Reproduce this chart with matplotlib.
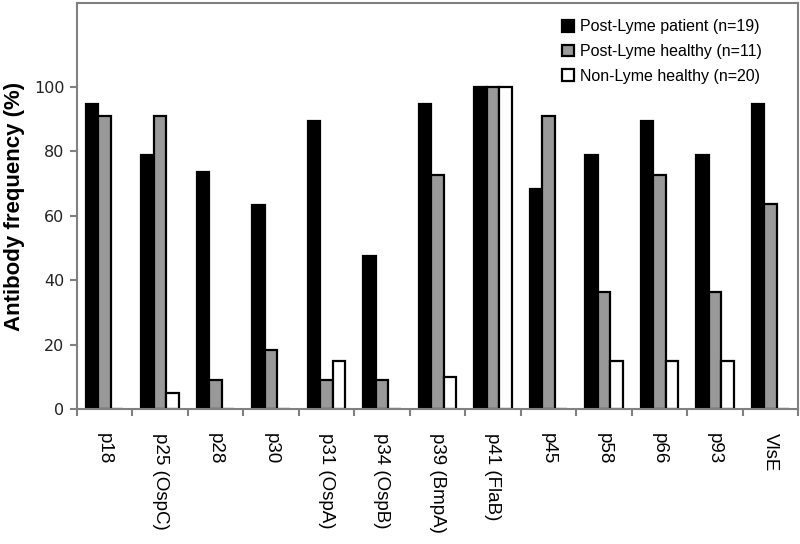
import matplotlib
matplotlib.use('Agg')
import matplotlib.pyplot as plt
import numpy as np

antigens = ['p18', 'p25 (OspC)', 'p28', 'p30', 'p31 (OspA)', 'p34 (OspB)',
            'p39 (BmpA)', 'p41 (FlaB)', 'p45', 'p58', 'p66', 'p93', 'VlsE']
post_lyme_patient = [94.7, 78.9, 73.7, 63.2, 89.5, 47.4, 94.7, 100, 68.4, 78.9, 89.5, 78.9, 94.7]
post_lyme_healthy = [90.9, 90.9, 9.1, 18.2, 9.1, 9.1, 72.7, 100, 90.9, 36.4, 72.7, 36.4, 63.6]
non_lyme_healthy = [0, 5, 0, 0, 15, 0, 10, 100, 0, 15, 15, 15, 0]

plt.rcParams['font.family'] = ['Liberation Sans', 'DejaVu Sans']

fig = plt.figure(figsize=(8, 5.44), dpi=100)
ax = fig.add_axes([0.096, 0.248, 0.9015, 0.7465])

x = np.arange(len(antigens))
w = 0.225
ax.bar(x - w, post_lyme_patient, w, color='black', edgecolor='black', linewidth=1.6,
       label='Post-Lyme patient (n=19)')
ax.bar(x, post_lyme_healthy, w, color='#999999', edgecolor='black', linewidth=1.6,
       label='Post-Lyme healthy (n=11)')
ax.bar(x + w, non_lyme_healthy, w, color='white', edgecolor='black', linewidth=1.6,
       label='Non-Lyme healthy (n=20)')

ax.set_xlim(-0.5, len(antigens) - 0.5)
ax.set_ylim(0, 126)
ax.set_yticks([0, 20, 40, 60, 80, 100])
ax.tick_params(axis='y', labelsize=11.5, length=5, width=1.5, color='#808080', pad=4)
for lbl in ax.get_yticklabels():
    lbl.set_family('DejaVu Sans')
    lbl.set_color('#222222')

ax.set_xticks(x)
ax.set_xticklabels(antigens, rotation=-90, fontsize=13.5)
ax.tick_params(axis='x', length=0, pad=17)
ax.set_xticks(np.arange(len(antigens) + 1) - 0.5, minor=True)
ax.tick_params(axis='x', which='minor', length=5, width=1.5, color='#808080')

for s in ax.spines.values():
    s.set_color('#808080')
    s.set_linewidth(1.5)

ax.set_ylabel('Antibody frequency (%)', fontsize=16, fontweight='bold', labelpad=6)

ax.legend(loc='upper right', frameon=False, fontsize=11.5, handlelength=0.75,
          handleheight=0.75, handletextpad=0.4, labelspacing=0.6,
          bbox_to_anchor=(0.97, 0.995))

fig.savefig('out.png', dpi=100)
